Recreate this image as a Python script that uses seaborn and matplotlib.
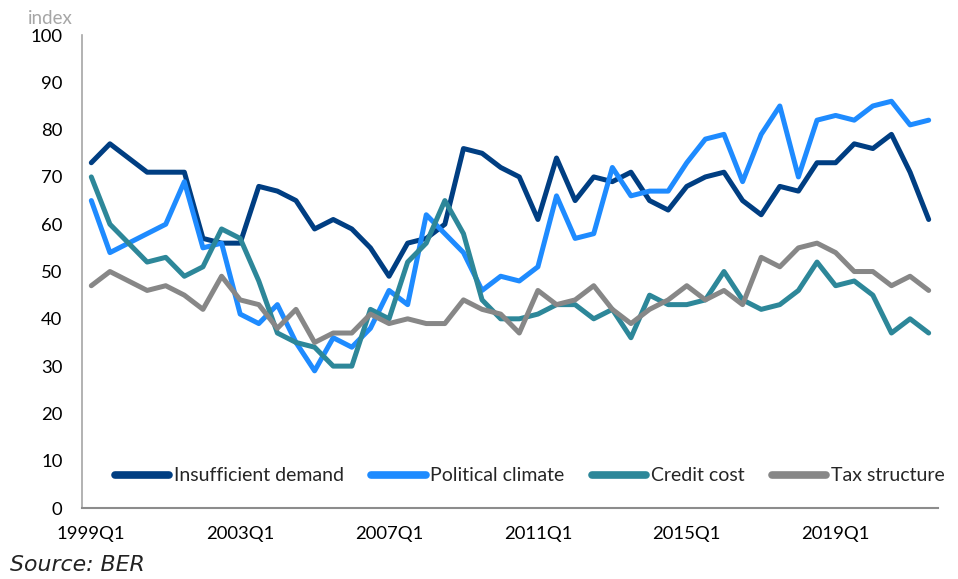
import numpy as np
import pandas as pd
import matplotlib
matplotlib.use("Agg")
import matplotlib.pyplot as plt
import seaborn as sns

# Semi-annual observations, 1999Q1 .. 2021Q3
periods = [f"{1999 + i // 2}Q{1 if i % 2 == 0 else 3}" for i in range(46)]

insufficient_demand = [73, 77, 74, 71, 71, 71, 57, 56, 56, 68, 67, 65, 59, 61, 59, 55,
                       49, 56, 57, 60, 76, 75, 72, 70, 61, 74, 65, 70, 69, 71, 65, 63,
                       68, 70, 71, 65, 62, 68, 67, 73, 73, 77, 76, 79, 71, 61]
political_climate = [65, 54, 56, 58, 60, 69, 55, 56, 41, 39, 43, 35, 29, 36, 34, 38,
                     46, 43, 62, 58, 54, 46, 49, 48, 51, 66, 57, 58, 72, 66, 67, 67,
                     73, 78, 79, 69, 79, 85, 70, 82, 83, 82, 85, 86, 81, 82]
credit_cost = [70, 60, 56, 52, 53, 49, 51, 59, 57, 48, 37, 35, 34, 30, 30, 42,
               40, 52, 56, 65, 58, 44, 40, 40, 41, 43, 43, 40, 42, 36, 45, 43,
               43, 44, 50, 44, 42, 43, 46, 52, 47, 48, 45, 37, 40, 37]
tax_structure = [47, 50, 48, 46, 47, 45, 42, 49, 44, 43, 38, 42, 35, 37, 37, 41,
                 39, 40, 39, 39, 44, 42, 41, 37, 46, 43, 44, 47, 42, 39, 42, 44,
                 47, 44, 46, 43, 53, 51, 55, 56, 54, 50, 50, 47, 49, 46]

series_names = ["Insufficient demand", "Political climate", "Credit cost", "Tax structure"]
series_values = [insufficient_demand, political_climate, credit_cost, tax_structure]
colors = ["#003E82", "#1E8BFF", "#2D8799", "#878787"]

tick_labels = ["1999Q1", "2003Q1", "2007Q1", "2011Q1", "2015Q1", "2019Q1"]

frames = []
for name, vals in zip(series_names, series_values):
    frames.append(pd.DataFrame({"idx": np.arange(len(periods)), "period": periods,
                                "value": vals, "series": name}))
df = pd.concat(frames, ignore_index=True)

sns.set_style("white")
plt.rcParams["font.family"] = ["Lato", "DejaVu Sans"]

fig = plt.figure(figsize=(9.58, 5.79), dpi=100)
ax = fig.add_axes([0.0856, 0.1226, 0.8935, 0.8169])

sns.lineplot(data=df, x="idx", y="value", hue="series", hue_order=series_names,
             palette=colors, linewidth=3.6, ax=ax, legend=True)
for ln in ax.lines:
    ln.set_solid_capstyle("round")
    ln.set_solid_joinstyle("round")

ax.set_xlim(-0.5, len(periods) - 0.5)
ax.set_ylim(0, 100)
ax.set_yticks(np.arange(0, 101, 10))
tick_pos = [periods.index(t) for t in tick_labels]
ax.set_xticks(tick_pos)
ax.set_xticklabels(tick_labels)
ax.set_xlabel("")
ax.set_ylabel("")
ax.tick_params(axis="both", length=0, labelsize=13.3, colors="black")
ax.tick_params(axis="x", pad=13)
ax.tick_params(axis="y", pad=14)

for s in ["top", "right"]:
    ax.spines[s].set_visible(False)
ax.spines["left"].set_color("#A6A6A6")
ax.spines["bottom"].set_color("#8C8C8C")
ax.spines["left"].set_linewidth(1.2)
ax.spines["bottom"].set_linewidth(1.5)

handles, labels = ax.get_legend_handles_labels()
leg = ax.legend(handles, labels, ncol=4, loc="center left",
                bbox_to_anchor=(0.038, 0.068),
                frameon=False, fontsize=14.0, handlelength=2.8, handletextpad=0.25,
                columnspacing=1.4, borderaxespad=0, borderpad=0)
for h in leg.get_lines():
    h.set_linewidth(5.5)
    h.set_solid_capstyle("round")

fig.text(28 / 958, 1 - 18 / 579, "index", fontsize=13.5, color="#A6A6A6",
         va="center", ha="left")
fig.text(10 / 958, 1 - 565 / 579, "Source: BER", fontsize=15.8, style="italic",
         family=["DejaVu Sans"], color="#222222", va="center", ha="left")

fig.savefig("out.png", dpi=100)
